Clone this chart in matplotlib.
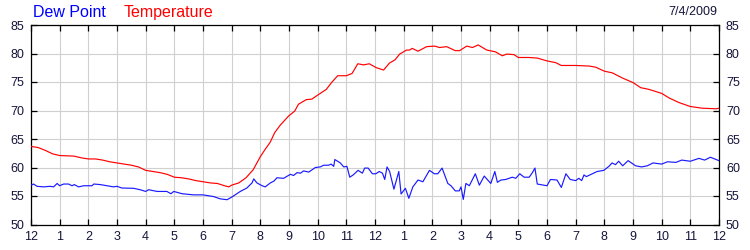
import matplotlib
matplotlib.use("Agg")
import matplotlib.pyplot as plt
import numpy as np

plt.rcParams['font.family'] = ['Liberation Sans', 'DejaVu Sans']

# Hours since midnight
temp_hours = [0, 0.25, 0.5, 0.75, 1.0, 1.25, 1.5, 1.75, 2.0, 2.25, 2.5, 2.75, 3.0, 3.25,
              3.5, 3.75, 4.0, 4.25, 4.5, 4.75, 5.0, 5.25, 5.5, 5.75, 6.0, 6.25, 6.5,
              6.75, 6.9, 7.0, 7.25, 7.5, 7.75, 8.0, 8.17, 8.34, 8.5, 8.69, 8.98, 9.2,
              9.33, 9.6, 9.8, 10.0, 10.3, 10.5, 10.7, 11.0, 11.2, 11.4, 11.6, 11.8,
              12.05, 12.3, 12.5, 12.7, 12.86, 13.1, 13.2, 13.3, 13.5, 13.8, 14.08,
              14.25, 14.5, 14.8, 14.95, 15.2, 15.4, 15.6, 15.9, 16.2, 16.44, 16.6,
              16.85, 17.0, 17.37, 17.66, 18.0, 18.3, 18.5, 19.0, 19.47, 19.7, 20.0,
              20.28, 20.63, 21.0, 21.27, 21.56, 22.0, 22.26, 22.6, 23.0, 23.42, 23.9, 24.0]
temperature = [63.7, 63.5, 63.0, 62.4, 62.1, 62.05, 62.0, 61.7, 61.5, 61.5, 61.3, 61.0,
               60.8, 60.6, 60.4, 60.1, 59.5, 59.3, 59.1, 58.8, 58.3, 58.2, 58.0, 57.7,
               57.5, 57.3, 57.2, 56.8, 56.6, 56.9, 57.3, 58.2, 59.6, 61.9, 63.2, 64.4,
               66.1, 67.4, 69.0, 69.9, 71.1, 71.9, 72.0, 72.7, 73.7, 75.0, 76.1, 76.1,
               76.5, 78.2, 78.0, 78.2, 77.5, 77.1, 78.3, 78.9, 79.9, 80.6, 80.6, 80.9,
               80.4, 81.2, 81.3, 81.05, 81.2, 80.5, 80.5, 81.3, 81.05, 81.5, 80.6,
               80.3, 79.6, 79.9, 79.8, 79.3, 79.3, 79.2, 78.7, 78.4, 77.9, 77.9, 77.8,
               77.6, 76.9, 76.6, 75.7, 74.9, 74.0, 73.7, 73.0, 72.2, 71.4, 70.7, 70.4,
               70.3, 70.4]

dew_hours = [0, 0.09, 0.21, 0.44, 0.67, 0.79, 0.91, 1.0, 1.14, 1.31, 1.43, 1.51, 1.66,
             1.84, 2.13, 2.19, 2.42, 2.65, 2.88, 3.0, 3.17, 3.58, 3.81, 4.0, 4.1, 4.4,
             4.74, 4.88, 4.98, 5.27, 5.67, 6.0, 6.37, 6.6, 6.84, 7.0, 7.3, 7.53, 7.71,
             7.77, 7.88, 8.06, 8.17, 8.35, 8.47, 8.58, 8.81, 9.05, 9.16, 9.28, 9.4,
             9.51, 9.69, 9.92, 10.09, 10.21, 10.38, 10.47, 10.56, 10.6, 10.79, 10.91,
             11.02, 11.12, 11.24, 11.41, 11.56, 11.64, 11.76, 11.91, 12.03, 12.15,
             12.26, 12.34, 12.42, 12.51, 12.66, 12.83, 12.91, 13.06, 13.18, 13.32,
             13.5, 13.67, 13.9, 14.07, 14.19, 14.34, 14.54, 14.65, 14.8, 14.94, 15.0,
             15.08, 15.17, 15.29, 15.5, 15.64, 15.81, 16.04, 16.18, 16.27, 16.39,
             16.56, 16.79, 16.91, 17.05, 17.2, 17.38, 17.49, 17.58, 17.66, 18.0, 18.12,
             18.35, 18.5, 18.66, 18.81, 19.0, 19.11, 19.21, 19.29, 19.37, 19.58, 19.75,
             19.98, 20.16, 20.27, 20.39, 20.5, 20.64, 20.83, 21.09, 21.3, 21.5, 21.7,
             22.0, 22.2, 22.5, 22.7, 23.0, 23.3, 23.5, 23.7, 23.85, 24.0]
dew_point = [56.9, 57.1, 56.7, 56.6, 56.7, 56.6, 57.2, 56.8, 57.1, 57.1, 56.8, 57.0,
             56.6, 56.8, 56.8, 57.1, 57.0, 56.8, 56.6, 56.7, 56.4, 56.35, 56.1, 55.8,
             56.1, 55.8, 55.8, 55.4, 55.8, 55.4, 55.2, 55.2, 54.9, 54.5, 54.35, 54.8,
             55.8, 56.4, 57.3, 58.0, 57.3, 56.8, 56.6, 57.3, 57.6, 58.2, 58.1, 58.8,
             58.6, 59.1, 59.0, 59.4, 59.2, 60.0, 60.1, 60.4, 60.4, 60.6, 60.2, 61.4,
             60.8, 60.1, 60.2, 58.3, 58.7, 59.5, 59.0, 59.9, 59.9, 58.9, 58.9, 59.3,
             59.0, 57.9, 60.1, 59.3, 56.2, 59.3, 55.35, 56.35, 54.6, 56.6, 57.8, 57.5,
             59.5, 58.9, 58.9, 59.9, 57.2, 56.8, 55.9, 55.9, 56.6, 54.4, 57.2, 56.8,
             58.9, 56.9, 58.5, 57.2, 59.3, 57.4, 57.8, 57.9, 58.3, 58.1, 58.9, 58.3,
             58.3, 59.1, 59.9, 57.1, 56.8, 57.9, 57.8, 56.5, 58.9, 57.9, 57.7, 58.1,
             57.7, 58.7, 58.4, 58.9, 59.3, 59.5, 60.2, 60.8, 60.5, 61.1, 60.3, 61.2,
             60.3, 60.1, 60.3, 60.8, 60.6, 61.0, 60.9, 61.3, 61.1, 61.6, 61.3, 61.8,
             61.5, 61.2]

x_ticks = list(range(0, 25))
x_labels = ['12', '1', '2', '3', '4', '5', '6', '7', '8', '9', '10', '11',
            '12', '1', '2', '3', '4', '5', '6', '7', '8', '9', '10', '11', '12']
y_ticks = [50, 55, 60, 65, 70, 75, 80, 85]
date_label = '7/4/2009'

fig = plt.figure(figsize=(7.5, 2.5), dpi=100)
ax = fig.add_axes([31 / 750, 1 - 224.5 / 250, (719 - 31) / 750, (224.5 - 25) / 250])

ax.plot(temp_hours, temperature, color='#ff0000', lw=0.85, zorder=3)
ax.plot(dew_hours, dew_point, color='#1a1aff', lw=0.85, zorder=3)

ax.set_xlim(0, 24)
ax.set_ylim(50, 85)
ax.set_xticks(x_ticks)
ax.set_xticklabels(x_labels)
ax.set_yticks(y_ticks)
ax.grid(True, color='#d0d0d0', lw=0.8, zorder=0)
ax.set_axisbelow(True)

label_color = '#14143c'
ax.tick_params(axis='both', direction='in', length=4, width=0.9, color='black',
               labelcolor=label_color, labelsize=9, top=True, right=True,
               labelright=True, labelleft=True)
ax.tick_params(axis='x', pad=5)
ax.tick_params(axis='y', pad=5)
for s in ax.spines.values():
    s.set_color('black')
    s.set_linewidth(0.9)

fig.text(33 / 750, 1 - 12.5 / 250, 'Dew Point', color='#0000ff', fontsize=11.5,
         ha='left', va='center')
fig.text(124 / 750, 1 - 12.5 / 250, 'Temperature', color='#ff0000', fontsize=11.5,
         ha='left', va='center')
fig.text(717 / 750, 1 - 12 / 250, date_label, color=label_color, fontsize=9,
         ha='right', va='center')

fig.savefig('out.png', dpi=100)
